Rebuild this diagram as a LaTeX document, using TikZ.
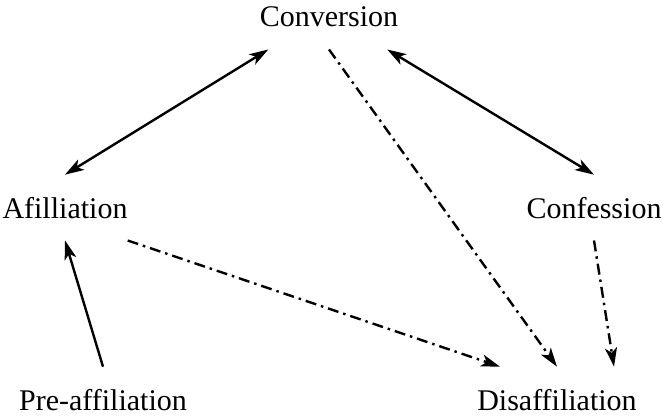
\documentclass[tikz,border=0pt]{standalone}
\usepackage{fontspec}
\setmainfont{Liberation Serif}
\usetikzlibrary{arrows.meta}

\begin{document}
\begin{tikzpicture}[x=1pt,y=-1pt,>={Stealth[length=19pt,width=12pt,inset=5pt]},font=\fontsize{30}{34}\selectfont]
\tikzset{stage/.style={anchor=base,inner xsep=0pt,inner ysep=22pt},
  link/.style={line width=2.4pt},
  drift/.style={line width=2.4pt,dash pattern=on 11pt off 5pt on 2.5pt off 5pt}}
\useasboundingbox (0,0) rectangle (663,417);
\node[stage] (conv) at (329,27) {Conversion};
\node[stage] (afil) at (65,218) {Afilliation};
\node[stage] (conf) at (594,218) {Confession};
\node[stage] (pre) at (103,410) {Pre-affiliation};
\node[stage] (dis) at (557,410) {Disaffiliation};
\draw[link,<->] (afil.north) -- (conv.208);
\draw[link,<->] (conv.331) -- (conf.north);
\draw[link,->] (pre.north) -- (afil.south);
\draw[drift,->] (conv.south) -- (dis.north);
\draw[drift,->] (afil.south east) -- (dis.150);
\draw[drift,->] (conf.south) -- (dis.30);
\end{tikzpicture}
\end{document}
